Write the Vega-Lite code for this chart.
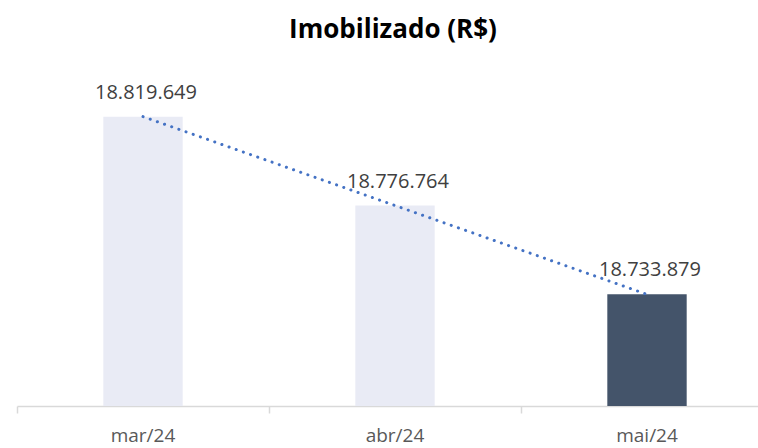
{
  "$schema": "https://vega.github.io/schema/vega-lite/v6.json",
  "width": 756,
  "height": 346,
  "autosize": {"type": "none"},
  "padding": {"left": 17, "top": 60, "right": 0, "bottom": 42},
  "background": "white",
  "title": {
    "text": "Imobilizado (R$)",
    "font": "Open Sans",
    "fontSize": 26,
    "fontWeight": "bold",
    "color": "#000000",
    "anchor": "middle",
    "offset": 17,
    "dx": -2
  },
  "config": {"view": {"stroke": null}},
  "data": {
    "values": [
      {"mes": "mar/24", "valor": 18819649, "label": "18.819.649", "destaque": "n"},
      {"mes": "abr/24", "valor": 18776764, "label": "18.776.764", "destaque": "n"},
      {"mes": "mai/24", "valor": 18733879, "label": "18.733.879", "destaque": "s"}
    ]
  },
  "encoding": {
    "x": {
      "field": "mes",
      "type": "nominal",
      "sort": null,
      "scale": {"paddingInner": 0.685, "paddingOuter": 0.3425},
      "axis": {
        "title": null,
        "labelAngle": 0,
        "labelFont": "Open Sans",
        "labelFontSize": 19,
        "labelColor": "#595959",
        "labelPadding": 13,
        "domainColor": "#D9D9D9",
        "domainWidth": 1.5,
        "tickColor": "#D9D9D9",
        "tickSize": 7,
        "tickWidth": 1.5,
        "bandPosition": -1.075
      }
    },
    "y": {
      "field": "valor",
      "type": "quantitative",
      "scale": {"domain": [18680000, 18847000], "zero": false, "nice": false},
      "axis": null
    }
  },
  "layer": [
    {
      "mark": {"type": "bar"},
      "encoding": {
        "y2": {"datum": 18680000},
        "color": {
          "field": "destaque",
          "type": "nominal",
          "scale": {"domain": ["n", "s"], "range": ["#E9EBF5", "#44546A"]},
          "legend": null
        }
      }
    },
    {
      "mark": {
        "type": "line",
        "color": "#4472C4",
        "strokeWidth": 3,
        "strokeDash": [0.1, 7.5],
        "strokeCap": "round"
      },
      "encoding": {}
    },
    {
      "mark": {
        "type": "text",
        "baseline": "bottom",
        "dy": -14,
        "dx": 3,
        "font": "Open Sans",
        "fontSize": 20,
        "color": "#404040"
      },
      "encoding": {"text": {"field": "label"}}
    }
  ]
}
